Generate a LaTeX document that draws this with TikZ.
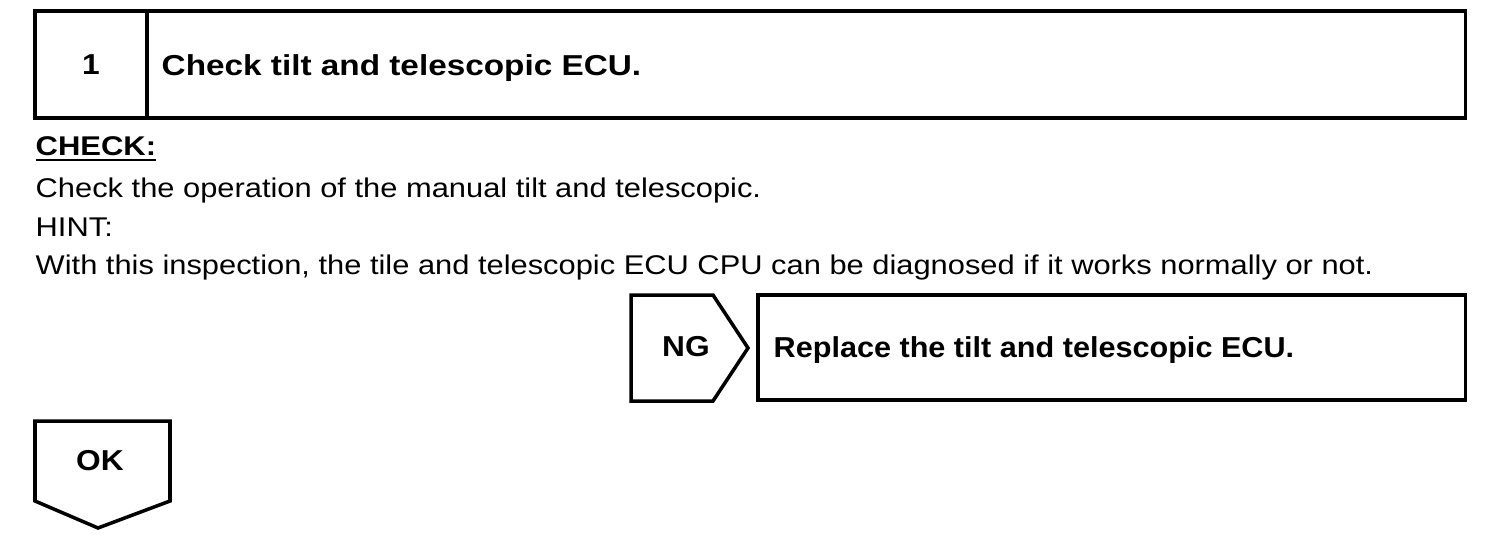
\documentclass[tikz,border=0pt]{standalone}
\usepackage{fontspec}
\setmainfont{Liberation Sans}

\tikzset{
  frame/.style={draw, line width=1pt, line join=miter},
  headtext/.style={font=\fontsize{8.2}{9}\selectfont\bfseries\addfontfeature{FakeStretch=#1}, inner sep=0pt},
  headtext/.default=1.1,
  bodytext/.style={font=\fontsize{7.7}{9}\selectfont\addfontfeature{FakeStretch=1.14}, inner sep=0pt, anchor=base west},
}

\begin{document}
\begin{tikzpicture}
      \useasboundingbox (0,0) rectangle (15.04,5.5);
      % step header
      \draw[frame] (.35,5.39) rectangle (14.655,4.32);
      \draw[frame] (1.47,5.39) -- (1.47,4.32);
      \node[headtext] (num) at (.91,4.85) {1};
      \node[headtext=1.156, anchor=base west] (title) at (1.61,4.75) {Check tilt and telescopic ECU.};
      % check text
      \node[bodytext, font=\fontsize{7.7}{9}\selectfont\bfseries\addfontfeature{FakeStretch=1.145}] (check) at (.35,3.95) {\underline{CHECK:}};
      \node[bodytext] (oper) at (.35,3.53) {Check the operation of the manual tilt and telescopic.};
      \node[bodytext] (hint) at (.35,3.14) {HINT:};
      \node[bodytext] (insp) at (.35,2.76) {With this inspection, the tile and telescopic ECU CPU can be diagnosed if it works normally or not.};
      % NG branch
      \draw[frame] (6.31,2.55) -- (7.13,2.55) -- (7.48,2.02) -- (7.13,1.49) -- (6.31,1.49) -- cycle;
      \node[headtext] (ng) at (6.86,2.03) {NG};
      \draw[frame] (7.58,2.55) rectangle (14.655,1.50);
      \node[headtext=1.062, anchor=base west] (repl) at (7.73,1.93) {Replace the tilt and telescopic ECU.};
      % OK branch
      \draw[frame] (.35,1.29) -- (1.70,1.29) -- (1.70,.49) -- (.98,.22) -- (.35,.49) -- cycle;
      \node[headtext] (ok) at (1.00,.89) {OK};
  \end{tikzpicture}
\end{document}
